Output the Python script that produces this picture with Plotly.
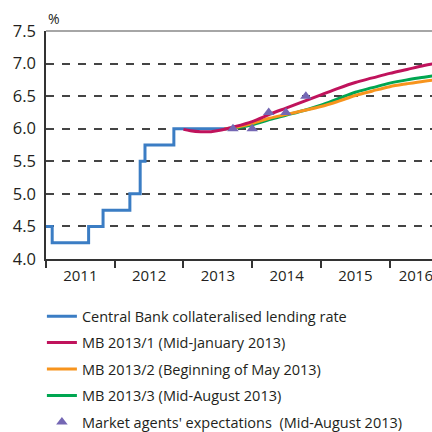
import plotly.graph_objects as go

# Central Bank collateralised lending rate (step changes)
rate_x = [2011.0, 2011.09, 2011.62, 2011.83, 2012.22, 2012.37, 2012.44, 2012.86, 2013.65]
rate_y = [4.5, 4.25, 4.5, 4.75, 5.0, 5.5, 5.75, 6.0, 6.0]

# MB 2013/1 (Mid-January 2013)
mb1_x = [2013.0, 2013.1, 2013.25, 2013.4, 2013.55, 2013.7, 2014.0, 2014.25, 2014.5, 2014.75,
         2015.0, 2015.25, 2015.5, 2015.75, 2016.0, 2016.25, 2016.5, 2016.75]
mb1_y = [5.99, 5.97, 5.955, 5.955, 5.98, 6.02, 6.11, 6.22, 6.32, 6.42,
         6.52, 6.62, 6.71, 6.78, 6.85, 6.91, 6.97, 7.02]

# MB 2013/2 (Beginning of May 2013)
mb2_x = [2013.6, 2013.75, 2014.0, 2014.25, 2014.5, 2014.75, 2015.0, 2015.25,
         2015.5, 2015.75, 2016.0, 2016.25, 2016.5, 2016.75]
mb2_y = [6.0, 6.02, 6.08, 6.16, 6.22, 6.28, 6.34, 6.42,
         6.51, 6.58, 6.645, 6.69, 6.73, 6.76]

# MB 2013/3 (Mid-August 2013)
mb3_x = [2013.6, 2013.75, 2014.0, 2014.25, 2014.5, 2014.75, 2015.0, 2015.25,
         2015.5, 2015.75, 2016.0, 2016.25, 2016.5, 2016.75]
mb3_y = [6.0, 6.01, 6.06, 6.14, 6.21, 6.28, 6.36, 6.46,
         6.56, 6.63, 6.70, 6.75, 6.79, 6.83]

# Market agents' expectations (Mid-August 2013)
mkt_x = [2013.72, 2014.0, 2014.24, 2014.49, 2014.78]
mkt_y = [6.0, 6.0, 6.25, 6.25, 6.5]

year_labels = ["2011", "2012", "2013", "2014", "2015", "2016"]
year_label_pos = [2011.5, 2012.5, 2013.5, 2014.5, 2015.5, 2016.38]
year_edges = [2011, 2012, 2013, 2014, 2015, 2016]
y_ticks = [4.0, 4.5, 5.0, 5.5, 6.0, 6.5, 7.0, 7.5]

FONT = "Open Sans"
TXT = "#231f20"

fig = go.Figure()
fig.add_trace(go.Scatter(x=rate_x, y=rate_y, mode="lines", line=dict(color="#3b7dc4", width=3, shape="hv"),
                         name="Central Bank collateralised lending rate", legendgroup="a", legendrank=1))
fig.add_trace(go.Scatter(x=mb3_x, y=mb3_y, mode="lines", line=dict(color="#00a651", width=3, shape="spline"),
                         name="MB 2013/3 (Mid-August 2013)", legendgroup="d", legendrank=4))
fig.add_trace(go.Scatter(x=mb2_x, y=mb2_y, mode="lines", line=dict(color="#f7941d", width=3, shape="spline"),
                         name="MB 2013/2 (Beginning of May 2013)", legendgroup="c", legendrank=3))
fig.add_trace(go.Scatter(x=mb1_x, y=mb1_y, mode="lines", line=dict(color="#c0135c", width=3, shape="spline"),
                         name="MB 2013/1 (Mid-January 2013)", legendgroup="b", legendrank=2))
fig.add_trace(go.Scatter(x=mkt_x, y=mkt_y, mode="markers",
                         marker=dict(symbol="triangle-up", size=10, color="#7467b4"),
                         name="Market agents' expectations  (Mid-August 2013)", legendgroup="e", legendrank=5))

fig.update_layout(
    width=432, height=432,
    margin=dict(l=46, r=0, t=31, b=173, autoexpand=False),
    paper_bgcolor="white", plot_bgcolor="white",
    font=dict(family=FONT, size=14.5, color=TXT),
    showlegend=True,
    legend=dict(xref="container", yref="container", x=0.097, y=0.305, xanchor="left", yanchor="top",
                traceorder="grouped", tracegroupgap=4.6,
                font=dict(family=FONT, size=14.5, color=TXT),
                itemwidth=30, bgcolor="rgba(0,0,0,0)"),
)
fig.update_xaxes(range=[2011.0, 2016.615], tickvals=year_label_pos, ticktext=year_labels,
                 ticks="", showgrid=False, showline=True, linecolor="#333333", linewidth=1.5,
                 tickfont=dict(size=15, color=TXT), zeroline=False, fixedrange=True,
                 automargin=False, ticklabeloverflow="allow", ticklabelstandoff=2,
                 minor=dict(tickvals=year_edges, ticks="outside", ticklen=7, tickcolor="#333333",
                            tickwidth=1.5, showgrid=False))
fig.update_yaxes(range=[4.0, 7.5], tickvals=y_ticks, tickformat=".1f",
                 showgrid=True, gridcolor="#444444", gridwidth=1.5, griddash="8px,8px",
                 showline=True, linecolor="#333333", linewidth=1.5, ticks="", zeroline=False,
                 tickfont=dict(size=16.5, color=TXT), fixedrange=True,
                 automargin=False, ticklabeloverflow="allow", ticklabelstandoff=5)
fig.add_shape(type="line", xref="paper", yref="paper", x0=0, x1=1, y0=1, y1=1,
              line=dict(color="#888888", width=1.5), layer="above")
fig.add_annotation(text="%", xref="paper", yref="paper", x=0.0, y=1.0, xanchor="left", yanchor="bottom",
                   showarrow=False, font=dict(size=14, color=TXT), yshift=1)

fig.write_html("out.html", config={"displayModeBar": False},
               post_script="document.body.style.margin='0';document.body.style.overflow='hidden';")
